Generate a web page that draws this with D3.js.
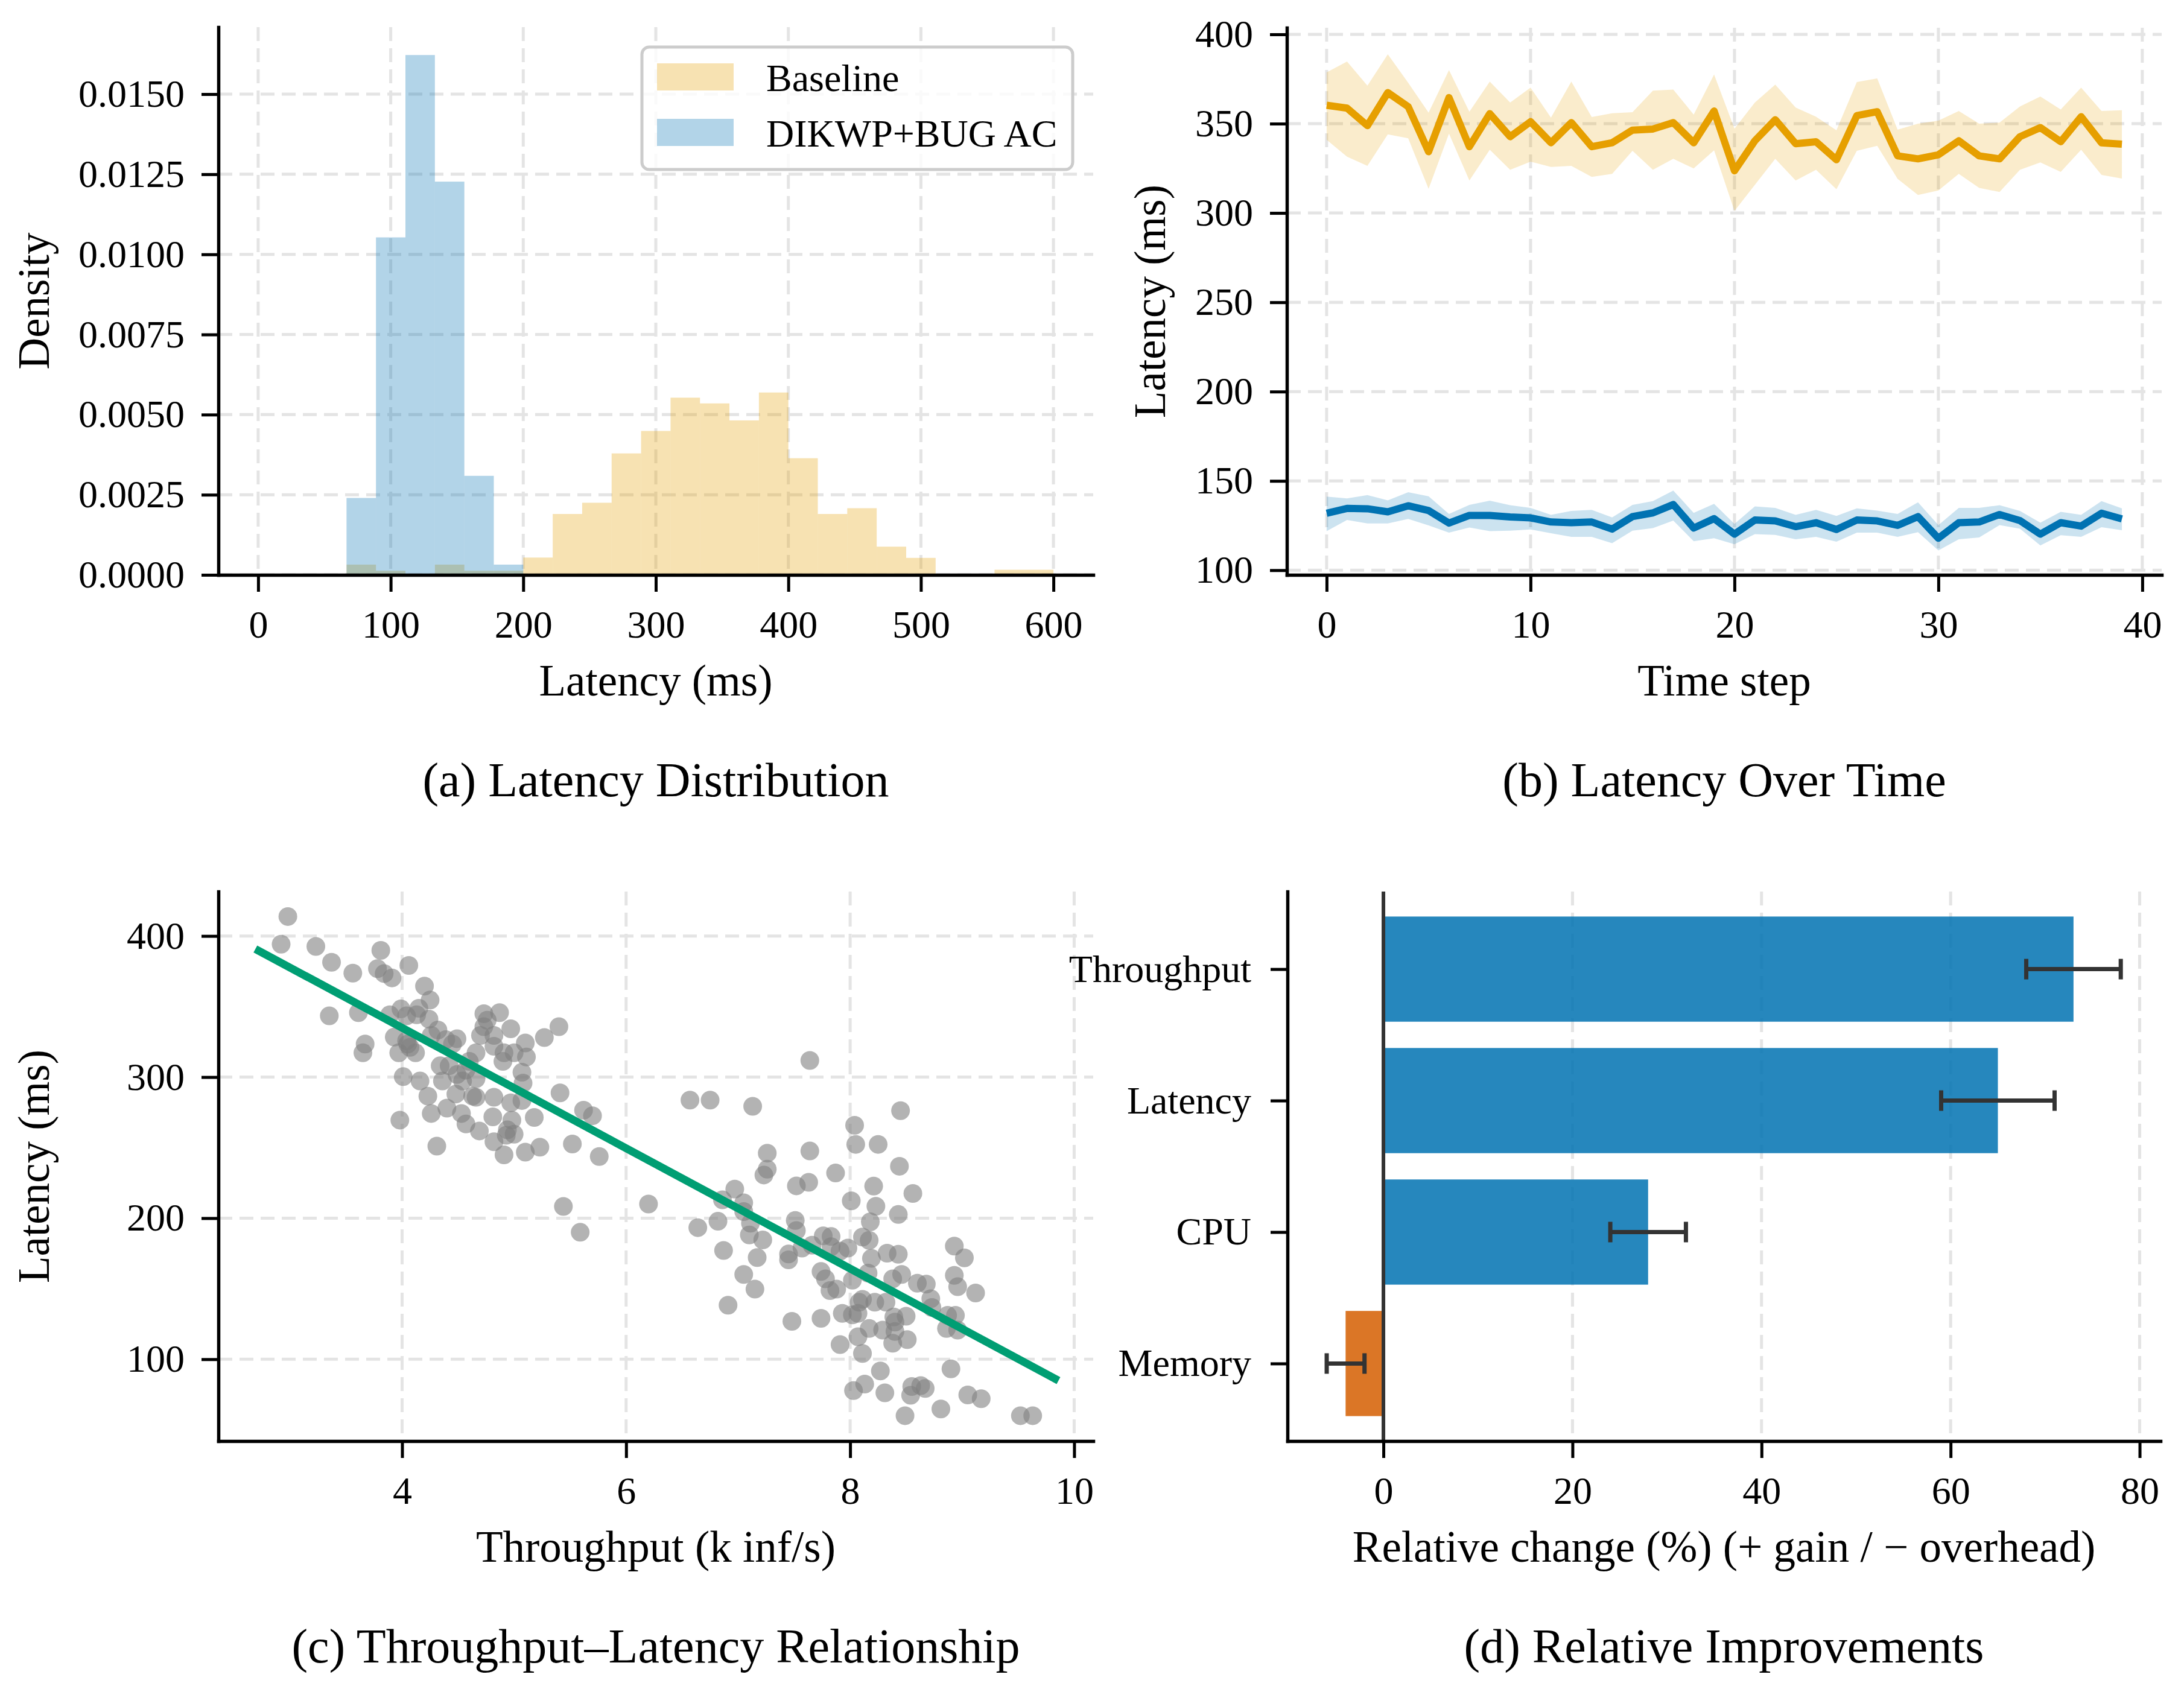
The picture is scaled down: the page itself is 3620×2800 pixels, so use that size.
<!DOCTYPE html>
<html><head><meta charset="utf-8">
<script src="https://cdn.jsdelivr.net/npm/d3@7"></script>
<style>
body{margin:0;background:#fff;}
svg text{font-family:"Liberation Serif","Times New Roman",serif;}
</style>
</head><body>
<svg id="chart" width="3620" height="2800" xmlns="http://www.w3.org/2000/svg"></svg>
<script>
// ---------------- DATA ----------------
// (a) histogram: 27 equal bins spanning 0..600 ms, density per bin
const histRange = [0, 600];
const histBinCount = 27;
const baselineDensity = [0,0,0,0.00032,0.00013,0,0.00032,0.00013,0.00013,0.00054,0.00190,0.00225,0.00379,0.00449,0.00553,0.00535,0.00482,0.00569,0.00364,0.00190,0.00208,0.00088,0.00053,0,0,0.00016,0.00016];
const dikwpDensity    = [0,0,0,0.00240,0.01053,0.01622,0.01227,0.00309,0.00032,0,0,0,0,0,0,0,0,0,0,0,0,0,0,0,0,0,0];
const histSeries = ["Baseline","DIKWP+BUG AC"];
const histXTicks = [0,100,200,300,400,500,600];
const histYTicks = [0,0.0025,0.005,0.0075,0.01,0.0125,0.015];

// (b) latency over time
const timeSteps = d3.range(40);
const baseMean  = [360.3,358.7,348.9,367.4,359.5,334.3,364.6,337.1,355.6,342.7,351.1,339.3,350.6,337.1,339.3,346.4,347.0,350.6,339.3,357.1,323.6,340.4,352.2,338.8,339.9,329.8,354.5,356.7,332.0,330.3,332.6,340.4,332.0,330.3,342.7,347.8,339.9,353.9,339.3,338.5];
const baseUpper = [378.7,384.8,371.3,388.8,372.9,356.2,380.0,356.7,373.6,361.8,370.2,353.4,373.6,353.7,355.8,356.4,368.5,369.1,355.1,377.5,347.2,361.8,371.9,359.0,353.9,346.3,373.3,375.3,346.6,350.0,351.7,357.1,350.0,350.6,359.6,365.2,357.9,370.2,357.1,357.5];
const baseLower = [341.0,331.5,326.4,344.0,341.8,313.5,344.4,318.2,335.4,324.2,328.7,325.8,326.4,320.2,321.9,334.8,324.2,330.3,324.9,335.1,301.1,315.7,330.3,318.2,324.2,313.3,334.8,337.6,319.1,310.1,312.6,321.9,314.0,311.8,324.2,328.3,323.0,335.4,321.3,319.3];
const dikMean   = [131.9,134.6,134.4,132.7,136.1,133.4,126.4,130.7,130.7,129.8,129.3,127.0,126.6,127.0,123.0,130.0,132.1,136.8,123.6,128.9,120.2,128.1,127.6,124.4,126.6,122.8,128.1,127.6,125.1,130.0,117.9,126.6,127.0,131.2,127.8,120.2,126.6,124.7,131.9,128.7];
const dikUpper  = [141.2,140.2,142.1,139.1,143.7,141.4,131.5,136.6,138.9,136.4,134.9,131.0,133.2,133.8,129.6,136.6,138.7,144.6,132.1,137.2,125.9,135.7,134.9,131.0,133.8,130.4,134.6,133.4,131.5,138.0,125.3,134.9,134.9,136.4,133.2,126.6,132.7,131.0,138.7,134.6];
const dikLower  = [121.9,128.1,126.2,126.2,128.7,125.1,121.0,123.9,121.9,122.1,122.8,120.7,118.7,118.7,115.1,122.1,123.6,127.8,116.2,117.9,114.5,120.2,119.8,117.3,118.7,116.0,121.0,121.0,118.7,121.3,111.1,117.3,118.3,125.3,123.2,113.9,119.6,118.7,124.1,122.4];
const timeXTicks = [0,10,20,30,40];
const timeYTicks = [100,150,200,250,300,350,400];

// (c) throughput vs latency scatter
const scatterX = [2.98,2.92,3.23,3.37,3.56,3.81,3.78,3.84,3.91,4.06,4.20,4.25,3.35,3.61,3.89,3.99,4.04,4.15,4.13,4.24,4.32,3.67,3.65,3.93,4.04,4.07,3.97,4.12,4.05,4.26,4.39,4.49,4.45,4.73,4.87,4.73,4.70,4.82,4.97,4.76,5.10,5.27,5.40,4.66,4.82,4.91,5.00,5.11,4.90,4.60,4.34,4.42,4.49,4.57,5.07,5.08,4.01,4.16,4.36,4.54,4.66,4.23,4.48,4.63,4.66,4.82,4.97,5.07,4.40,4.26,4.53,3.98,4.81,4.98,5.18,5.62,5.70,5.41,4.57,4.69,4.94,5.00,4.82,4.93,4.31,4.91,5.10,5.23,5.52,5.76,5.44,6.20,6.57,6.75,5.59,
  7.64,7.13,8.45,8.04,8.05,8.25,7.26,7.64,8.44,7.26,7.23,7.52,7.63,7.87,8.21,8.01,8.56,6.97,6.86,7.05,7.05,8.23,8.43,8.18,6.82,6.64,7.11,7.51,7.52,7.10,7.22,6.87,7.17,7.45,7.45,7.57,7.66,7.76,7.83,7.83,7.91,7.98,8.11,8.17,8.19,8.33,8.43,8.93,9.02,7.05,7.15,6.91,7.74,7.78,7.82,7.88,8.02,8.16,8.38,8.46,8.60,8.68,8.93,8.96,9.12,8.72,8.08,8.11,8.22,8.32,8.73,8.87,8.94,8.86,8.96,7.93,8.02,8.07,8.39,8.50,8.40,7.48,7.74,8.17,8.29,8.40,8.07,8.38,8.51,7.91,8.11,8.27,8.90,8.13,8.03,8.31,8.55,8.63,8.67,8.54,9.05,9.17,8.81,8.49,9.52,9.63];
const scatterY = [413.8,394.2,392.6,381.4,373.7,389.8,376.9,373.4,370.3,379.1,364.5,354.6,343.4,345.7,344.2,348.3,343.4,348.8,344.2,341.1,333.4,323.4,317.2,328.3,325.7,321.1,317.2,317.2,323.4,329.5,326.5,327.2,323.4,344.9,345.7,335.7,329.5,329.5,334.2,340.3,324.2,328.0,335.7,317.2,321.8,317.2,317.2,314.2,311.1,311.1,308.0,308.0,301.8,304.9,303.4,295.7,300.3,297.2,297.2,297.2,298.8,286.5,288.0,286.5,285.7,285.7,281.8,283.4,278.0,274.2,274.2,269.5,271.8,269.5,271.4,276.5,272.6,288.8,266.8,261.8,262.6,259.5,254.2,258.8,251.1,244.9,246.8,250.3,252.6,243.7,208.3,210.0,283.7,283.7,190.0,
  311.8,279.3,276.2,265.8,252.3,252.3,246.1,247.6,236.8,234.7,230.6,222.9,225.4,232.0,222.7,212.3,217.5,220.6,213.0,210.9,204.7,208.4,202.6,197.4,197.8,193.3,196.4,198.4,191.2,188.1,184.6,177.1,172.1,174.6,170.5,178.8,180.8,187.5,187.0,179.8,176.7,178.8,186.6,184.3,171.5,175.2,174.4,180.2,171.9,160.1,149.7,138.3,162.2,157.0,148.7,149.7,156.0,161.1,157.0,160.1,153.9,153.3,159.5,151.4,147.0,142.9,140.4,142.5,140.4,140.4,136.7,131.1,131.1,121.8,120.7,132.5,131.5,132.5,130.0,130.5,126.3,126.9,129.0,121.8,120.7,119.7,116.0,111.4,113.9,110.4,104.1,91.7,93.2,82.4,77.8,76.2,80.7,81.3,79.3,74.5,74.7,72.0,64.8,60.0,60.0,60.0];
const fitLineX = [2.69, 9.86];
const fitLineY = [390.8, 84.9];
const scatXTicks = [4,6,8,10];
const scatYTicks = [100,200,300,400];

// (d) relative improvements
const metrics   = ["Throughput","Latency","CPU","Memory"];
const relChange = [73, 65, 28, -4];
const relError  = [5, 6, 4, 2];
const relXTicks = [0,20,40,60,80];

// ---------------- LAYOUT ----------------
const svg = d3.select("#chart");
const FONT = '"Liberation Serif","Times New Roman",serif';
const TICK_FS = 64, LABEL_FS = 73, TITLE_FS = 80;
const SPINE_W = 5.5, TICK_W = 5, TICK_LEN = 28;
const GRID_COLOR = "#e4e4e4", GRID_W = 5;
const panels = {
  a:{l:362,  r:1812, t:45,   b:953},
  b:{l:2133, r:3583, t:46,   b:953},
  c:{l:362,  r:1812, t:1478, b:2389},
  d:{l:2134, r:3581, t:1478, b:2389}
};

function styleAxis(g){
  g.attr("font-family", FONT).attr("font-size", TICK_FS);
  g.select(".domain").attr("stroke","#000").attr("stroke-width",SPINE_W).attr("stroke-linecap","square");
  g.selectAll(".tick line").attr("stroke","#000").attr("stroke-width",TICK_W);
  g.selectAll(".tick text").attr("fill","#000");
}
function grid(g, x, y, p, xt, yt){
  const gg = g.append("g");
  if (xt) gg.selectAll("line.vx").data(xt).enter().append("line")
    .attr("x1",d=>x(d)).attr("x2",d=>x(d)).attr("y1",p.t).attr("y2",p.b)
    .attr("stroke",GRID_COLOR).attr("stroke-width",GRID_W).attr("stroke-dasharray","23,12");
  if (yt) gg.selectAll("line.hy").data(yt).enter().append("line")
    .attr("x1",p.l).attr("x2",p.r).attr("y1",d=>y(d)).attr("y2",d=>y(d))
    .attr("stroke",GRID_COLOR).attr("stroke-width",GRID_W).attr("stroke-dasharray","23,12");
}
function axes(g, x, y, p, xt, yt, xfmt, yfmt, xpad, ypad){
  const ax = g.append("g").attr("transform",`translate(0,${p.b})`)
    .call(d3.axisBottom(x).tickValues(xt).tickFormat(xfmt).tickSize(TICK_LEN).tickSizeOuter(0).tickPadding(xpad||31));
  styleAxis(ax);
  const ay = g.append("g").attr("transform",`translate(${p.l},0)`)
    .call(d3.axisLeft(y).tickValues(yt).tickFormat(yfmt).tickSize(TICK_LEN).tickSizeOuter(0).tickPadding(ypad||28));
  styleAxis(ay);
}
function xlabel(g, p, txt){
  g.append("text").attr("x",(p.l+p.r)/2).attr("y",p.b+200).attr("text-anchor","middle")
    .attr("font-size",LABEL_FS).attr("font-family",FONT).text(txt);
}
function ylabel(g, p, bx, txt){
  g.append("text").attr("transform",`translate(${bx},${(p.t+p.b)/2}) rotate(-90)`)
    .attr("text-anchor","middle").attr("font-size",LABEL_FS).attr("font-family",FONT).text(txt);
}
function title(g, p, txt){
  g.append("text").attr("x",(p.l+p.r)/2).attr("y",p.b+367).attr("text-anchor","middle")
    .attr("font-size",TITLE_FS).attr("font-family",FONT).text(txt);
}

const ORANGE = "#E69F00", BLUE = "#0072B2", GREEN = "#009E73", VERM = "#D55E00";

// ---------------- (a) ----------------
{
  const p = panels.a, g = svg.append("g");
  const x = d3.scaleLinear().domain([-30,630]).range([p.l,p.r]);
  const y = d3.scaleLinear().domain([0,0.01709]).range([p.b,p.t]);
  grid(g,x,y,p,histXTicks,histYTicks);
  const w = (histRange[1]-histRange[0])/histBinCount;
  const edges = d3.range(histBinCount).map(i=>histRange[0]+i*w);
  [[baselineDensity,ORANGE],[dikwpDensity,BLUE]].forEach(([dens,col])=>{
    g.append("g").selectAll("rect").data(dens.map((v,i)=>({x0:edges[i],x1:edges[i]+w,v}))
      .filter(d=>d.v>0)).enter().append("rect")
      .attr("x",d=>x(d.x0)).attr("width",d=>x(d.x1)-x(d.x0))
      .attr("y",d=>y(d.v)).attr("height",d=>y(0)-y(d.v))
      .attr("fill",col).attr("fill-opacity",0.3);
  });
  axes(g,x,y,p,histXTicks,histYTicks,d3.format("d"),d3.format(".4f"));
  xlabel(g,p,"Latency (ms)");
  ylabel(g,p,81,"Density");
  title(g,p,"(a) Latency Distribution");
  // legend
  const lg = g.append("g");
  lg.append("rect").attr("x",1064).attr("y",78).attr("width",714).attr("height",203)
    .attr("rx",12).attr("fill","#fff").attr("fill-opacity",0.8).attr("stroke","#cccccc").attr("stroke-width",5);
  [[ORANGE,histSeries[0],105],[BLUE,histSeries[1],197]].forEach(([c,t,yy])=>{
    lg.append("rect").attr("x",1089).attr("y",yy).attr("width",127).attr("height",45)
      .attr("fill",c).attr("fill-opacity",0.3);
    lg.append("text").attr("x",1270).attr("y",yy+46).attr("font-size",TICK_FS).attr("font-family",FONT).text(t);
  });
}

// ---------------- (b) ----------------
{
  const p = panels.b, g = svg.append("g");
  const x = d3.scaleLinear().domain([-1.95,40.95]).range([p.l,p.r]);
  const y = d3.scaleLinear().domain([97.4,403.7]).range([p.b,p.t]);
  grid(g,x,y,p,timeXTicks,timeYTicks);
  const area = (lo,hi)=>d3.area().x((d,i)=>x(timeSteps[i])).y0((d,i)=>y(lo[i])).y1((d,i)=>y(hi[i]));
  const line = d3.line().x((d,i)=>x(timeSteps[i])).y(d=>y(d));
  g.append("path").datum(baseMean).attr("d",area(baseLower,baseUpper)).attr("fill",ORANGE).attr("fill-opacity",0.2);
  g.append("path").datum(baseMean).attr("d",line).attr("fill","none").attr("stroke",ORANGE).attr("stroke-width",12).attr("stroke-linejoin","round");
  g.append("path").datum(dikMean).attr("d",area(dikLower,dikUpper)).attr("fill",BLUE).attr("fill-opacity",0.2);
  g.append("path").datum(dikMean).attr("d",line).attr("fill","none").attr("stroke",BLUE).attr("stroke-width",12).attr("stroke-linejoin","round");
  axes(g,x,y,p,timeXTicks,timeYTicks,d3.format("d"),d3.format("d"));
  xlabel(g,p,"Time step");
  ylabel(g,p,1931,"Latency (ms)");
  title(g,p,"(b) Latency Over Time");
}

// ---------------- (c) ----------------
{
  const p = panels.c, g = svg.append("g");
  const x = d3.scaleLinear().domain([2.36,10.17]).range([p.l,p.r]);
  const y = d3.scaleLinear().domain([42,431.5]).range([p.b,p.t]);
  grid(g,x,y,p,scatXTicks,scatYTicks);
  g.append("g").selectAll("circle").data(scatterX.map((v,i)=>[v,scatterY[i]])).enter().append("circle")
    .attr("cx",d=>x(d[0])).attr("cy",d=>y(d[1])).attr("r",15.5)
    .attr("fill","#808080").attr("fill-opacity",0.6);
  g.append("path").datum(fitLineX.map((v,i)=>[v,fitLineY[i]]))
    .attr("d",d3.line().x(d=>x(d[0])).y(d=>y(d[1])))
    .attr("stroke",GREEN).attr("stroke-width",13).attr("fill","none");
  axes(g,x,y,p,scatXTicks,scatYTicks,d3.format("d"),d3.format("d"));
  xlabel(g,p,"Throughput (k inf/s)");
  ylabel(g,p,81,"Latency (ms)");
  title(g,p,"(c) Throughput\u2013Latency Relationship");
}

// ---------------- (d) ----------------
{
  const p = panels.d, g = svg.append("g");
  const x = d3.scaleLinear().domain([-10.15,82.2]).range([p.l,p.r]);
  const y = d3.scaleLinear().domain([-0.59,3.59]).range([p.t,p.b]);
  grid(g,x,y,p,relXTicks,null);
  const bh = 0.8;
  g.append("g").selectAll("rect").data(relChange).enter().append("rect")
    .attr("x",d=>x(Math.min(0,d))).attr("width",d=>Math.abs(x(d)-x(0)))
    .attr("y",(d,i)=>y(i-bh/2)).attr("height",(d,i)=>y(i+bh/2)-y(i-bh/2))
    .attr("fill",d=>d>=0?BLUE:VERM).attr("fill-opacity",0.85);
  g.append("line").attr("x1",x(0)).attr("x2",x(0)).attr("y1",p.t).attr("y2",p.b)
    .attr("stroke","#333").attr("stroke-width",6);
  const eb = g.append("g").attr("stroke","#333").attr("stroke-width",7);
  relChange.forEach((v,i)=>{
    const e = relError[i], yy = y(i);
    eb.append("line").attr("x1",x(v-e)).attr("x2",x(v+e)).attr("y1",yy).attr("y2",yy);
    eb.append("line").attr("x1",x(v-e)).attr("x2",x(v-e)).attr("y1",yy-17).attr("y2",yy+17);
    eb.append("line").attr("x1",x(v+e)).attr("x2",x(v+e)).attr("y1",yy-17).attr("y2",yy+17);
  });
  axes(g,x,y,p,relXTicks,d3.range(metrics.length),d3.format("d"),i=>metrics[i],31,32);
  xlabel(g,p,"Relative change (%) (+ gain / \u2212 overhead)");
  title(g,p,"(d) Relative Improvements");
}
</script>
</body></html>
